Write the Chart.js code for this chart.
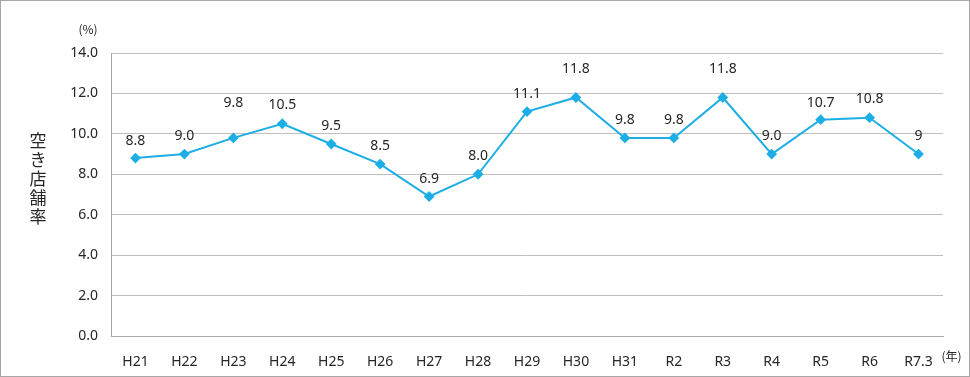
<!DOCTYPE html>
<html lang="ja">
<head>
  <meta charset="UTF-8" />
  <title>空き店舗率の推移</title>
  <style>
    body { margin: 0; background: #fff; }
    #wrap {
      width: 968px;
      height: 375px;
      border: 1px solid #a6a6a6;
      position: relative;
    }
  </style>
  <script src="https://cdn.jsdelivr.net/npm/chart.js"></script>
</head>
<body>
  <div id="wrap">
    <canvas id="rateChart" width="968" height="375"></canvas>
  </div>
  <script>
    const years = ["H21", "H22", "H23", "H24", "H25", "H26", "H27", "H28", "H29", "H30",
                   "H31", "R2", "R3", "R4", "R5", "R6", "R7.3"];
    const rates = [8.8, 9.0, 9.8, 10.5, 9.5, 8.5, 6.9, 8.0, 11.1, 11.8,
                   9.8, 9.8, 11.8, 9.0, 10.7, 10.8, 9];
    const rateLabels = ["8.8", "9.0", "9.8", "10.5", "9.5", "8.5", "6.9", "8.0", "11.1", "11.8",
                        "9.8", "9.8", "11.8", "9.0", "10.7", "10.8", "9"];
    const yTitle = "空き店舗率";

    // how far each value label sits above its point (px)
    const labelLift = [17, 18, 35, 19, 18, 18, 18, 18, 18, 28, 18, 18, 28, 18, 17, 19, 18];

    const textFont = "'Noto Sans', 'Noto Sans CJK JP', sans-serif";
    const inkColor = '#262626';

    const extras = {
      id: 'extras',
      afterDatasetsDraw(chart) {
        const ctx = chart.ctx;
        const meta = chart.getDatasetMeta(0);
        ctx.save();
        ctx.fillStyle = inkColor;
        ctx.font = "14px " + textFont;
        ctx.textAlign = 'center';
        ctx.textBaseline = 'middle';
        meta.data.forEach((pt, i) => {
          ctx.fillText(rateLabels[i], pt.x, pt.y - labelLift[i]);
        });

        // unit marks
        const area = chart.chartArea;
        ctx.font = "12px 'Noto Sans CJK JP', sans-serif";
        ctx.fillText("(%)", area.left - 23, area.top - 24);
        const xs = chart.scales.x;
        ctx.textAlign = 'left';
        ctx.fillText("(年)", xs.getPixelForValue(years.length - 1) + 23, area.bottom + 20);

        // vertical (stacked) y title
        ctx.font = "17px 'Noto Sans CJK JP', sans-serif";
        ctx.textAlign = 'center';
        const chars = Array.from(yTitle);
        const step = 19;
        const midY = (area.top + area.bottom) / 2 - 16;
        const startY = midY - (chars.length - 1) * step / 2;
        chars.forEach((c, i) => ctx.fillText(c, 37, startY + i * step));
        ctx.restore();
      }
    };

    new Chart(document.getElementById('rateChart').getContext('2d'), {
      type: 'line',
      data: {
        labels: years,
        datasets: [{
          data: rates,
          borderColor: '#1eaee6',
          backgroundColor: '#1eaee6',
          borderWidth: 2,
          pointStyle: 'rectRot',
          pointRadius: 4,
          pointHoverRadius: 4,
          tension: 0,
          fill: false
        }]
      },
      options: {
        responsive: false,
        animation: false,
        events: [],
        layout: { padding: { left: 0, right: 26, top: 52, bottom: 0 } },
        plugins: {
          legend: { display: false },
          tooltip: { enabled: false }
        },
        scales: {
          x: {
            offset: true,
            grid: { display: false },
            border: { display: true, color: '#a6a6a6', width: 1 },
            ticks: {
              color: inkColor,
              font: { family: textFont, size: 14 },
              padding: 10,
              maxRotation: 0,
              autoSkip: false
            },
            afterFit(scale) { scale.height = 40; }
          },
          y: {
            min: 0,
            max: 14,
            grid: { color: '#bfbfbf', lineWidth: 1, drawTicks: false },
            border: { display: true, color: '#a6a6a6', width: 1 },
            ticks: {
              stepSize: 2,
              color: inkColor,
              font: { family: textFont, size: 14 },
              padding: 13,
              callback: v => v.toFixed(1)
            },
            afterFit(scale) { scale.width = 110; }
          }
        }
      },
      plugins: [extras]
    });
  </script>
</body>
</html>
